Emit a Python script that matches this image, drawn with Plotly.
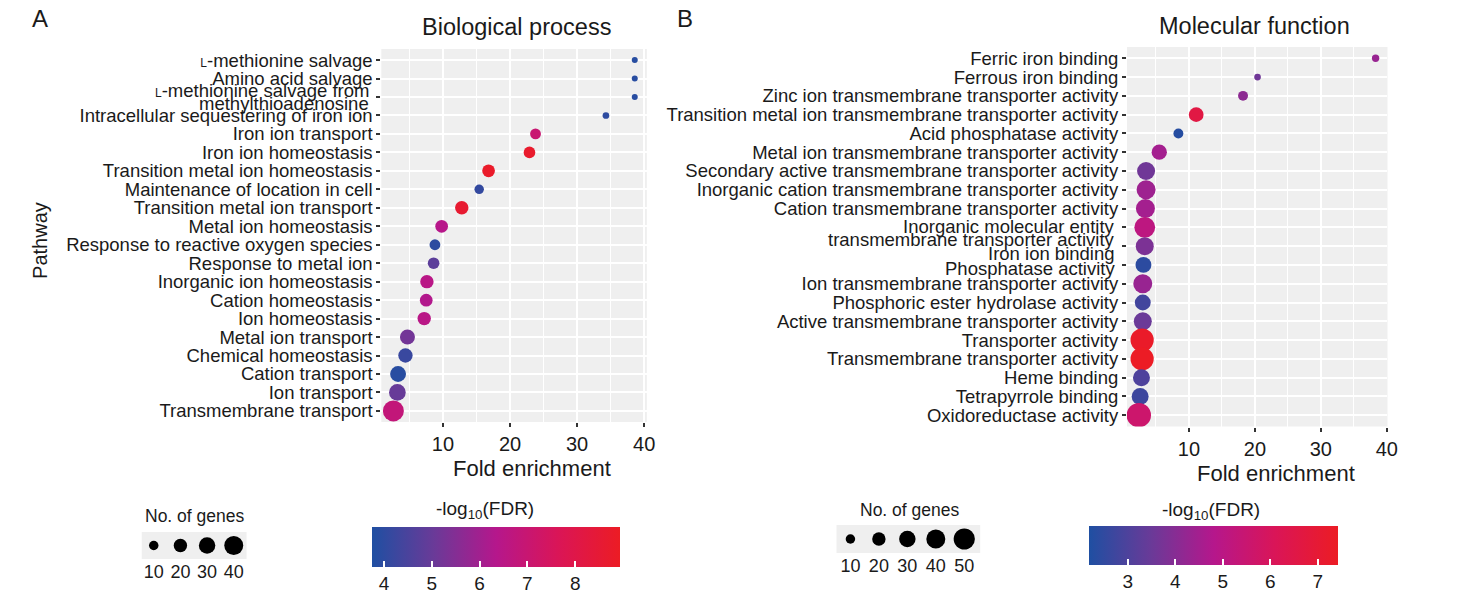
import plotly.graph_objects as go

W, H = 1474, 607

# ---------------- data: Biological process ----------------
bp_terms = [
    '<span style="font-size:12px">L</span>-methionine salvage',
    'Amino acid salvage',
    '<span style="font-size:12px">L</span>-methionine salvage from<br>methylthioadenosine',
    'Intracellular sequestering of iron ion',
    'Iron ion transport',
    'Iron ion homeostasis',
    'Transition metal ion homeostasis',
    'Maintenance of location in cell',
    'Transition metal ion transport',
    'Metal ion homeostasis',
    'Response to reactive oxygen species',
    'Response to metal ion',
    'Inorganic ion homeostasis',
    'Cation homeostasis',
    'Ion homeostasis',
    'Metal ion transport',
    'Chemical homeostasis',
    'Cation transport',
    'Ion transport',
    'Transmembrane transport',
]
bp_fold = [38.6, 38.6, 38.6, 34.3, 23.8, 22.9, 16.8, 15.4, 12.8, 9.8,
           8.8, 8.6, 7.6, 7.5, 7.2, 4.7, 4.4, 3.3, 3.2, 2.6]
bp_genes = [4, 4, 4, 5, 13, 15, 18, 10, 20, 18,
            13, 15, 20, 18, 20, 25, 23, 28, 31, 49]
bp_fdr = [3.9, 3.9, 3.9, 4.0, 7.0, 8.7, 8.8, 4.1, 8.6, 6.4,
          4.0, 4.8, 6.5, 6.3, 6.5, 5.2, 4.2, 3.9, 5.0, 6.8]
bp_size_breaks = [10, 20, 30, 40]
bp_color_ticks = [4, 5, 6, 7, 8]

# ---------------- data: Molecular function ----------------
mf_terms = [
    'Ferric iron binding',
    'Ferrous iron binding',
    'Zinc ion transmembrane transporter activity',
    'Transition metal ion transmembrane transporter activity',
    'Acid phosphatase activity',
    'Metal ion transmembrane transporter activity',
    'Secondary active transmembrane transporter activity',
    'Inorganic cation transmembrane transporter activity',
    'Cation transmembrane transporter activity',
    'Inorganic molecular entity<br>transmembrane transporter activity',
    'Iron ion binding',
    'Phosphatase activity',
    'Ion transmembrane transporter activity',
    'Phosphoric ester hydrolase activity',
    'Active transmembrane transporter activity',
    'Transporter activity',
    'Transmembrane transporter activity',
    'Heme binding',
    'Tetrapyrrole binding',
    'Oxidoreductase activity',
]
mf_fold = [38.3, 20.4, 18.2, 11.1, 8.4, 5.5, 3.5, 3.5, 3.4, 3.3,
           3.3, 3.1, 3.0, 3.0, 3.0, 2.9, 2.9, 2.8, 2.6, 2.4]
mf_genes = [6, 5, 11, 24, 11, 26, 36, 40, 40, 48,
            36, 28, 40, 28, 36, 60, 60, 32, 32, 66]
mf_fdr = [4.3, 3.6, 4.1, 6.6, 2.3, 4.5, 3.6, 4.4, 4.5, 5.1,
          3.8, 2.4, 4.3, 2.8, 3.5, 7.3, 7.4, 3.0, 2.7, 5.6]
mf_size_breaks = [10, 20, 30, 40, 50]
mf_color_ticks = [3, 4, 5, 6, 7]

# ---------------- styling ----------------
FONT = "Liberation Sans, Arial, sans-serif"
TXT = "#1a1a1a"
PANEL = "#EFEFEF"
SIZEREF = 2.0 / 9.0
LABEL_SIZE = 18.5
XSCALE = 1.005
CSCALE = [[0.0, '#1F4FA2'], [0.25, '#6A3A98'], [0.5, '#B5178C'],
          [0.75, '#DA1557'], [1.0, '#EC1C24']]
# vertical nudges (px, per line) for crowded category labels, keyed by row index
BP_LABEL_NUDGE = {2: (6.5, -6.5)}
MF_LABEL_NUDGE = {9: (0.5, -12.0), 10: (-7.5,), 11: (-4.0,)}


def px_x(p):
    return p * XSCALE / W


def px_y(p):
    return 1 - p / H


def tick_texts(terms, nudges):
    # labels that need nudging are drawn separately as annotations
    return ['' if i in nudges else t for i, t in enumerate(terms)]


fig = go.Figure()

# main panels
fig.add_trace(go.Scatter(
    x=bp_fold, y=bp_terms, mode='markers', xaxis='x', yaxis='y',
    marker=dict(size=bp_genes, sizemode='area', sizeref=SIZEREF, opacity=1,
                color=bp_fdr, coloraxis='coloraxis', line=dict(width=0)),
    showlegend=False, hoverinfo='x+y'))
fig.add_trace(go.Scatter(
    x=mf_fold, y=mf_terms, mode='markers', xaxis='x2', yaxis='y2',
    marker=dict(size=mf_genes, sizemode='area', sizeref=SIZEREF, opacity=1,
                color=mf_fdr, coloraxis='coloraxis2', line=dict(width=0)),
    showlegend=False, hoverinfo='x+y'))

# size legends
fig.add_trace(go.Scatter(
    x=list(range(len(bp_size_breaks))), y=[0] * len(bp_size_breaks),
    mode='markers', xaxis='x3', yaxis='y3',
    marker=dict(size=bp_size_breaks, sizemode='area', sizeref=SIZEREF, opacity=1,
                color='black', line=dict(width=0)),
    showlegend=False, hoverinfo='skip'))
fig.add_trace(go.Scatter(
    x=list(range(len(mf_size_breaks))), y=[0] * len(mf_size_breaks),
    mode='markers', xaxis='x4', yaxis='y4',
    marker=dict(size=mf_size_breaks, sizemode='area', sizeref=SIZEREF, opacity=1,
                color='black', line=dict(width=0)),
    showlegend=False, hoverinfo='skip'))

common_x = dict(
    tickvals=[10, 20, 30, 40], showgrid=True, gridcolor='white', gridwidth=2,
    minor=dict(tickvals=[5, 15, 25, 35], showgrid=True, gridcolor='white', gridwidth=1.2),
    ticks='outside', ticklen=4, tickwidth=2, tickcolor='#333333',
    tickfont=dict(size=20, color=TXT, family=FONT), zeroline=False, showline=False,
    fixedrange=True)
common_y = dict(
    type='category', showgrid=True, gridcolor='white', gridwidth=2,
    ticks='outside', ticklen=4, tickwidth=2, tickcolor='#333333',
    tickfont=dict(size=LABEL_SIZE, color=TXT, family=FONT), zeroline=False, showline=False,
    range=[19.6, -0.6], fixedrange=True, tickmode='array')

legend_y = dict(range=[-1, 1], showgrid=False, zeroline=False, showticklabels=False,
                ticks='', fixedrange=True)

X1 = (382, 648)
X2 = (1129, 1390)

fig.update_layout(
    width=W, height=H, margin=dict(l=0, r=0, t=0, b=0),
    paper_bgcolor='white', plot_bgcolor=PANEL,
    font=dict(family=FONT, color=TXT),
    xaxis=dict(domain=[px_x(X1[0]), px_x(X1[1])], range=[0.8, 40.4], anchor='y', **common_x),
    yaxis=dict(domain=[px_y(422), px_y(49)], anchor='x', categoryorder='array',
               categoryarray=bp_terms, tickvals=bp_terms,
               ticktext=tick_texts(bp_terms, BP_LABEL_NUDGE), **common_y),
    xaxis2=dict(domain=[px_x(X2[0]), px_x(X2[1])], range=[0.6, 40.1], anchor='y2', **common_x),
    yaxis2=dict(domain=[px_y(426.5), px_y(47)], anchor='x2', categoryorder='array',
                categoryarray=mf_terms, tickvals=mf_terms,
                ticktext=tick_texts(mf_terms, MF_LABEL_NUDGE), **common_y),
    xaxis3=dict(domain=[px_x(142), px_x(247)], range=[-0.45, 3.48], anchor='y3',
                tickvals=list(range(len(bp_size_breaks))),
                ticktext=[str(v) for v in bp_size_breaks],
                showgrid=False, zeroline=False, ticks='', fixedrange=True,
                tickfont=dict(size=18, color=TXT, family=FONT)),
    yaxis3=dict(domain=[px_y(559), px_y(532)], anchor='x3', **legend_y),
    xaxis4=dict(domain=[px_x(838), px_x(982)], range=[-0.49, 4.56], anchor='y4',
                tickvals=list(range(len(mf_size_breaks))),
                ticktext=[str(v) for v in mf_size_breaks],
                showgrid=False, zeroline=False, ticks='', fixedrange=True,
                tickfont=dict(size=18, color=TXT, family=FONT)),
    yaxis4=dict(domain=[px_y(553), px_y(525)], anchor='x4', **legend_y),
    coloraxis=dict(
        colorscale=CSCALE, cmin=3.75, cmax=8.94,
        colorbar=dict(orientation='h', x=px_x(497), xanchor='center',
                      y=px_y(527), yanchor='top', len=248, lenmode='pixels',
                      thickness=40, tickvals=bp_color_ticks, ticks='inside',
                      ticklen=6, tickwidth=2, tickcolor='white',
                      tickfont=dict(size=19, color=TXT, family=FONT),
                      outlinewidth=0, xpad=0, ypad=0)),
    coloraxis2=dict(
        colorscale=CSCALE, cmin=2.18, cmax=7.42,
        colorbar=dict(orientation='h', x=px_x(1215.5), xanchor='center',
                      y=px_y(526), yanchor='top', len=249, lenmode='pixels',
                      thickness=39, tickvals=mf_color_ticks, ticks='inside',
                      ticklen=6, tickwidth=2, tickcolor='white',
                      tickfont=dict(size=19, color=TXT, family=FONT),
                      outlinewidth=0, xpad=0, ypad=0)),
)

annots = [
    dict(text='A', x=px_x(40), y=px_y(18), size=24),
    dict(text='B', x=px_x(686), y=px_y(18), size=24),
    dict(text='Biological process', x=px_x(517), y=px_y(27), size=23.5),
    dict(text='Molecular function', x=px_x(1257), y=px_y(26), size=23.5),
    dict(text='Fold enrichment', x=px_x(533), y=px_y(468), size=22),
    dict(text='Fold enrichment', x=px_x(1278), y=px_y(473), size=22),
    dict(text='No. of genes', x=px_x(195), y=px_y(516), size=17.5),
    dict(text='No. of genes', x=px_x(911), y=px_y(510), size=17.5),
    dict(text='-log<sub>10</sub>(FDR)', x=px_x(486), y=px_y(510), size=19),
    dict(text='-log<sub>10</sub>(FDR)', x=px_x(1213), y=px_y(511), size=19),
]
for a in annots:
    fig.add_annotation(text=a['text'], x=a['x'], y=a['y'], xref='paper', yref='paper',
                       xanchor='center', yanchor='middle', showarrow=False,
                       font=dict(size=a['size'], color=TXT, family=FONT))
fig.add_annotation(text='Pathway', x=px_x(40), y=px_y(240), xref='paper', yref='paper',
                   xanchor='center', yanchor='middle', showarrow=False, textangle=-90,
                   font=dict(size=20, color=TXT, family=FONT))

# category labels drawn with tighter spacing / small nudges
for terms, yref, xleft, nudges in ((bp_terms, 'y', X1[0], BP_LABEL_NUDGE),
                                   (mf_terms, 'y2', X2[0], MF_LABEL_NUDGE)):
    for i, shifts in nudges.items():
        for line, ys in zip(terms[i].split('<br>'), shifts):
            fig.add_annotation(text=line, x=px_x(xleft - 10), xref='paper',
                               y=i, yref=yref, yshift=ys, xanchor='right',
                               yanchor='middle', showarrow=False,
                               font=dict(size=LABEL_SIZE, color=TXT, family=FONT))

fig.write_html(
    "out.html",
    config={'displayModeBar': False},
    post_script=("document.body.style.margin='0';document.body.style.padding='0';"
                 "document.documentElement.style.overflow='hidden';"))
